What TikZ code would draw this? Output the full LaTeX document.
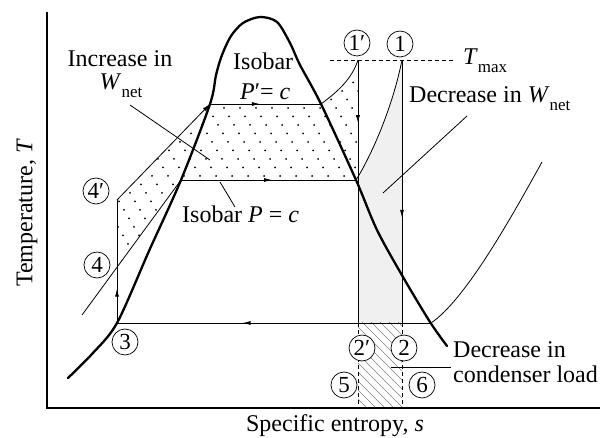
\documentclass[tikz,border=0pt]{standalone}
\usepackage{fontspec}
\setmainfont{Liberation Serif}
\usetikzlibrary{arrows.meta,decorations.markings}
\newcommand\subn[1]{\raisebox{-8pt}{\fontsize{17}{17}\selectfont #1}}
\tikzset{
  thin line/.style={line width=0.8pt},
  dome/.style={line width=2.3pt, line cap=round, line join=round},
  axisline/.style={line width=1.1pt},
  txt/.style={inner sep=0pt, font=\fontsize{24}{24}\selectfont},
  lbl/.style={circle, draw, line width=0.7pt, fill=white, inner sep=0pt, minimum size=26pt, font=\fontsize{23}{23}\selectfont},
  marrow/.style={postaction={decorate}, decoration={markings, mark=at position #1 with {\arrow{Latex[length=8pt,width=4pt]}}}},
  dashline/.style={line width=0.7pt, dash pattern=on 4pt off 3pt},
}
\begin{document}
\begin{tikzpicture}[x=1pt,y=-1pt]
\useasboundingbox (0,0) rectangle (608,438);
% key points
\coordinate (p1) at (402,60);
\coordinate (p1p) at (358,60);
\coordinate (p2) at (402,323);
\coordinate (p2p) at (358,323);
\coordinate (p3) at (117,323);
\coordinate (p4) at (117,267);
\coordinate (p4p) at (117,200);
\coordinate (p5) at (358,408);
\coordinate (p6) at (402,408);
\coordinate (a) at (181,180);
\coordinate (b) at (356,180);
\coordinate (bv) at (358,180);
\coordinate (c) at (210,104);
\coordinate (d) at (321,104);
\coordinate (e) at (431,323);
\coordinate (f) at (542,162);
\coordinate (g) at (82,315);
\coordinate (tl) at (330,60);
\coordinate (tr) at (455,60);
\coordinate (o) at (47,408);
\coordinate (ytop) at (47,12);
\coordinate (xend) at (600,408);

% dotted region
\begin{scope}
  \clip (p4) -- (p4p) -- (c) -- (d) .. controls (340,90) and (352,78) .. (p1p) -- (bv) -- (a) -- cycle;
  \foreach \i in {-20,...,28} {
    \foreach \j in {0,...,30} {
      \fill ({40+\i*16+\j*5},{40+\j*8.5}) circle (1pt);
    }
  }
\end{scope}
% light stipple region
\fill[gray!12] (p2p) -- (bv) -- (b) .. controls (370,158) and (392,110) .. (p1) -- (p2) -- cycle;
% hatched region
\begin{scope}
  \clip (p2p) rectangle (p6);
  \foreach \k in {0,...,18} {
    \draw[gray, line width=0.5pt] ({250+\k*9},300) -- ++(130,130);
  }
\end{scope}

% axes
\draw[axisline] (ytop) -- (o) -- (xend);

% saturation dome
\draw[dome] plot[smooth] coordinates {(68,378) (92,354) (117,323) (149,251) (181,180) (210,104) (216,75) (222,55) (231,36) (243,23) (260,17) (277,22) (290,43) (300,65) (321,104) (356,180) (377,230) (403,277) (430,322) (447,346)};

% cycle lines
\draw[thin line, marrow=0.28] (p3) -- (p4p);
\draw[thin line] (g) -- (a);
\draw[thin line, -{Latex[length=8pt,width=4pt]}] (p4p) -- (c);
\draw[thin line, marrow=0.45] (c) -- (d);
\draw[thin line, marrow=0.52] (a) -- (b);
\draw[thin line] (d) .. controls (340,90) and (352,78) .. (p1p);
\draw[thin line] (b) .. controls (370,158) and (392,110) .. (p1);
\draw[thin line, marrow=0.24] (p1p) -- (p2p);
\draw[thin line, marrow=0.6] (p1) -- (p2);
\draw[thin line, marrow=0.6] (e) -- (p3);
\draw[thin line] (e) .. controls (465,300) and (510,220) .. (f);
\draw[dashline] (tl) -- (tr);
\draw[dashline] (p2p) -- (p5);
\draw[dashline] (p2) -- (p6);

% leader lines
\coordinate (l1a) at (130,105); \coordinate (l1b) at (210,160);
\coordinate (l2a) at (220,182); \coordinate (l2b) at (235,207);
\coordinate (l3a) at (467,116); \coordinate (l3b) at (383,193);
\coordinate (l4a) at (391,367); \coordinate (l4b) at (451,367);
\draw[thin line] (l1a) -- (l1b);
\draw[thin line] (l2a) -- (l2b);
\draw[thin line] (l3a) -- (l3b);
\draw[thin line] (l4a) -- (l4b);

% state labels
\node[lbl] (c1p) at (357,43) {1′};
\node[lbl] (c1) at (400,44) {1};
\node[lbl] (c2p) at (362,348) {2′};
\node[lbl] (c2) at (404,348) {2};
\node[lbl] (c3) at (125,342) {3};
\node[lbl] (c4) at (97,265) {4};
\node[lbl] (c4p) at (96,191) {4′};
\node[lbl] (c5) at (344,385) {5};
\node[lbl] (c6) at (422,385) {6};

% texts
\node[txt, anchor=base] (tInc) at (120,67) {Increase in};
\node[txt, anchor=base] (tW) at (121,90) {\textit{W}\subn{net}};
\node[txt, anchor=base west] (tIso1) at (233,70) {Isobar};
\node[txt, anchor=base west] (tIso2) at (240,100) {\textit{P}′= \textit{c}};
\node[txt, anchor=base west] (tIsoP) at (182,223) {Isobar \textit{P} = \textit{c}};
\node[txt, anchor=base west] (tDec) at (409,103) {Decrease in \textit{W}\subn{net}};
\node[txt, anchor=base west] (tTmax) at (463,65) {\textit{T}\subn{max}};
\node[txt, anchor=base west] (tCond1) at (453,358) {Decrease in};
\node[txt, anchor=base west] (tCond2) at (453,383) {condenser load};
\node[txt, rotate=90] (tT) at (27,213) {Temperature, \textit{T}};
\node[txt, anchor=base] (tS) at (335,431) {Specific entropy, \textit{s}};
\end{tikzpicture}
\end{document}
